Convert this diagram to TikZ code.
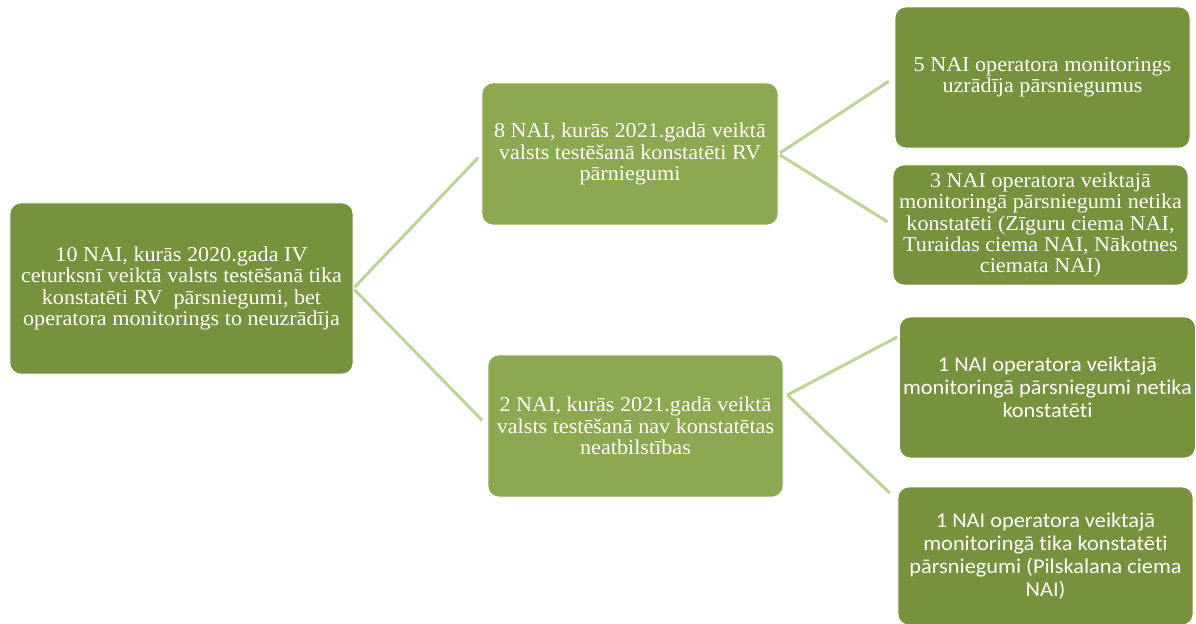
\documentclass[tikz,border=0pt]{standalone}
\usepackage{fontspec}
\setmainfont{Liberation Serif}[FakeStretch=1.05]
\newfontfamily\calibrisub{Carlito}[FakeStretch=1.06, Ligatures=NoCommon]
\usetikzlibrary{positioning,calc}
\definecolor{olivedark}{HTML}{76923C}
\definecolor{olivemid}{HTML}{8CA850}
\definecolor{olivelink}{HTML}{BCD495}
\tikzset{
  box/.style={rounded corners=0.22cm, draw=white, line width=0.4pt, text=white, align=center, inner sep=2pt, font=\fontsize{12}{12.2}\selectfont},
  darkbox/.style={box, fill=olivedark},
  midbox/.style={box, fill=olivemid},
  sansbox/.style={darkbox, font=\calibrisub\fontsize{12}{13.2}\selectfont},
  link/.style={draw=olivelink, line width=1.7pt}
}

\begin{document}
\begin{tikzpicture}
    \useasboundingbox (0,0) rectangle (23.92,12.46);

    % Root
    \node[darkbox, minimum width=6.86cm, minimum height=3.42cm] (root) at (3.63,6.69)
        {10 NAI, kurās 2020.gada IV\\ceturksnī veiktā valsts testēšanā tika\\konstatēti RV\ \ pārsniegumi, bet\\operatora monitorings to neuzrādīja};

    % Second level
    \node[midbox, minimum width=5.92cm, minimum height=2.84cm] (mid1) at (12.6,9.38)
        {8 NAI, kurās 2021.gadā veiktā\\valsts testēšanā konstatēti RV\\pārniegumi};
    \node[midbox, minimum width=5.9cm, minimum height=2.84cm] (mid2) at (12.71,3.94)
        {2 NAI, kurās 2021.gadā veiktā\\valsts testēšanā nav konstatētas\\neatbilstības};

    % Third level (upper)
    \node[darkbox, minimum width=5.9cm, minimum height=2.82cm] (r1) at (20.85,10.91)
        {5 NAI operatora monitorings\\uzrādīja pārsniegumus};
    \node[darkbox, minimum width=5.9cm, minimum height=2.4cm] (r2) at (20.81,7.96)
        {3 NAI operatora veiktajā\\monitoringā pārsniegumi netika\\konstatēti (Zīguru ciema NAI,\\Turaidas ciema NAI, Nākotnes\\ciemata NAI)};

    % Third level (lower)
    \node[sansbox, minimum width=5.9cm, minimum height=2.82cm] (r3) at (20.95,4.71)
        {1 NAI operatora veiktajā\\monitoringā pārsniegumi netika\\konstatēti};
    \node[sansbox, minimum width=5.9cm, minimum height=2.76cm] (r4) at (20.91,1.34)
        {1 NAI operatora veiktajā\\monitoringā tika konstatēti\\pārsniegumi (Pilskalana ciema\\NAI)};

    % Links
    \draw[link, shorten <=1pt, shorten >=0.1cm] (root.east) -- (mid1.west);
    \draw[link, shorten <=1pt, shorten >=0.16cm] (root.east) -- (mid2.west);
    \draw[link, shorten <=1pt, shorten >=0.14cm] (mid1.east) -- (r1.west);
    \draw[link, shorten <=1pt, shorten >=0.12cm] (mid1.east) -- (r2.west);
    \draw[link] ([xshift=0.08cm, yshift=0.62cm]mid2.east) -- ([xshift=-0.04cm, yshift=1.01cm]r3.west);
    \draw[link] ([xshift=0.08cm, yshift=0.62cm]mid2.east) -- ([xshift=-0.16cm, yshift=1.26cm]r4.west);
\end{tikzpicture}
\end{document}
